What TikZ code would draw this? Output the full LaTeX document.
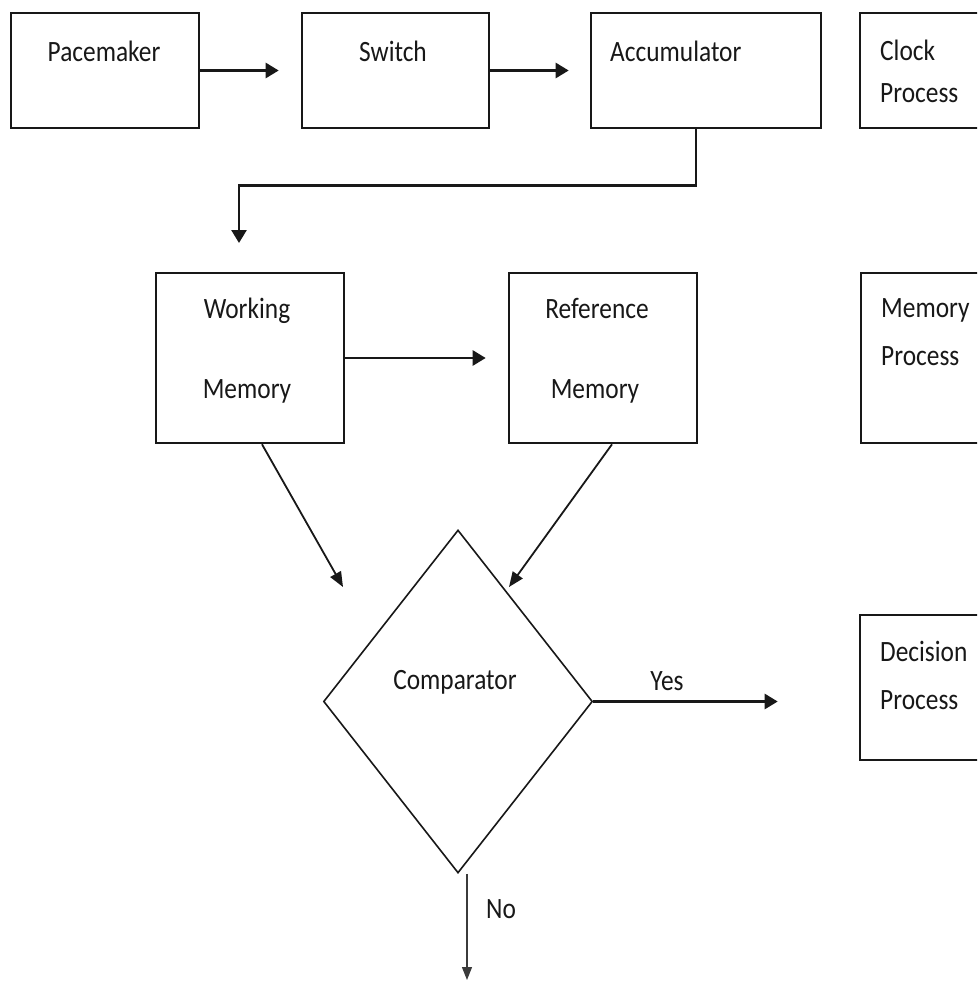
\documentclass[tikz,border=0pt]{standalone}
\usepackage{fontspec}
\setmainfont[FakeStretch=0.86]{Carlito}
\usetikzlibrary{arrows.meta,shapes.geometric}
\definecolor{ink}{HTML}{181818}
\begin{document}
\begin{tikzpicture}[x=1pt,y=-1pt,
  box/.style={draw=ink, line width=2.6pt, inner sep=0pt},
  txt/.style={text=ink, inner sep=0pt, font=\fontsize{29.5}{34}\selectfont},
  arr/.style={draw=ink, line width=2.6pt, -{Triangle[length=13pt,width=15pt]}},
  arrthin/.style={draw=ink, line width=1.8pt, -{Triangle[length=15pt,width=12pt]}},
  arrhair/.style={draw=ink!85, line width=1.1pt, -{Triangle[length=13pt,width=10pt]}}
]
\useasboundingbox (0,0) rectangle (977,985);
\clip (0,0) rectangle (977,985);
\fill[white] (0,0) rectangle (977,985);

% boxes
\node[box, minimum width=188pt, minimum height=115pt] (pace) at (105,70.5) {};
\node[box, minimum width=187pt, minimum height=115pt] (switch) at (395.5,70.5) {};
\node[box, minimum width=230pt, minimum height=115pt] (acc) at (706,70.5) {};
\node[box, minimum width=200pt, minimum height=115pt] (clock) at (960,70.5) {};
\node[box, minimum width=188pt, minimum height=170pt] (wm) at (250,358) {};
\node[box, minimum width=188pt, minimum height=170pt] (rm) at (603,358) {};
\node[box, minimum width=200pt, minimum height=170pt] (memp) at (961,358) {};
\node[box, minimum width=200pt, minimum height=145pt] (dec) at (960,687.5) {};
\node[draw=ink, line width=1.6pt, shape=diamond, inner sep=0pt,
      minimum width=269pt, minimum height=343pt] (cmp) at (458,701.5) {};

% texts
\node[txt, anchor=base] (tpace) at (104,61) {Pacemaker};
\node[txt, anchor=base] (tswitch) at (393,61) {Switch};
\node[txt, anchor=base west] (tacc) at (610,61) {Accumulator};
\node[txt, anchor=base west] (tclock1) at (880,60) {Clock};
\node[txt, anchor=base west] (tclock2) at (880,102) {Process};
\node[txt, anchor=base] (twm1) at (247,318) {Working};
\node[txt, anchor=base] (twm2) at (247,398) {Memory};
\node[txt, anchor=base] (trm1) at (597,318) {Reference};
\node[txt, anchor=base] (trm2) at (595,398) {Memory};
\node[txt, anchor=base west] (tmem1) at (881,317) {Memory};
\node[txt, anchor=base west] (tmem2) at (881,365) {Process};
\node[txt, anchor=base] (tcmp) at (455,689) {Comparator};
\node[txt, anchor=base] (tyes) at (667,690) {Yes};
\node[txt, anchor=base west] (tdec1) at (880,661) {Decision};
\node[txt, anchor=base west] (tdec2) at (880,709) {Process};
\node[txt, anchor=base west] (tno) at (486,918) {No};

% free ends
\coordinate (wmtop) at (239,243);
\coordinate (cmpL) at (343,587);
\coordinate (cmpR) at (509,587);
\coordinate (noend) at (467,980);

% connectors
\draw[arr, shorten >=22pt] (pace.east) -- (switch.west);
\draw[arr, shorten >=21pt] (switch.east) -- (acc.west);
\draw[arr] ([xshift=-10pt]acc.south) -- ++(0,56) -| (wmtop);
\draw[arr, shorten >=22pt] (wm.east) -- (rm.west);
\draw[arrthin] ([xshift=12pt]wm.south) -- (cmpL);
\draw[arrthin] ([xshift=9pt]rm.south) -- (cmpR);
\draw[arr, shorten >=81pt] (cmp.east) -- (cmp.east -| dec.west);
\draw[arrhair] ([xshift=9pt]cmp.south) -- (noend);
\end{tikzpicture}
\end{document}
